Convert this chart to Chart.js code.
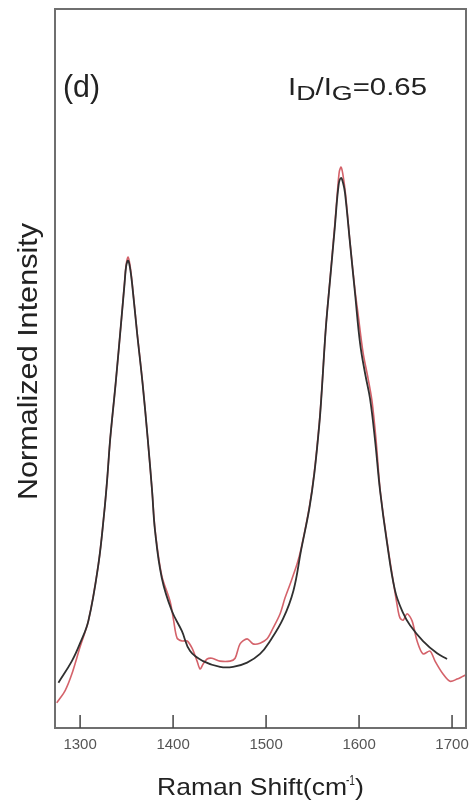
<!DOCTYPE html>
<html>
<head>
<meta charset="utf-8">
<script src="https://cdn.jsdelivr.net/npm/chart.js@4.4.1/dist/chart.umd.min.js"></script>
<style>
    html, body { margin: 0; padding: 0; background: #fff; }
    #wrap { width: 474px; height: 807px; position: relative; }
</style>
</head>
<body>
<div id="wrap"><canvas id="raman-chart"></canvas></div>
<script>
const shiftTicks = [1300, 1400, 1500, 1600, 1700];

// Lorentzian fit (black)
const fitShift = [
    1276.7, 1291.1, 1300.0, 1308.9, 1319.7, 1325.8, 1329.0, 1332.5, 1338.2, 1344.6,
    1347.8, 1349.5, 1351.6, 1353.8, 1355.9, 1361.3, 1367.2, 1372.6, 1377.4, 1380.6,
    1387.8, 1398.6, 1409.4, 1418.3, 1432.3, 1450.5, 1464.5, 1479.6, 1493.5, 1504.3,
    1518.3, 1529.4, 1537.6, 1546.6, 1551.9, 1557.3, 1559.9, 1564.3, 1569.1, 1573.9,
    1578.0, 1580.6, 1582.8, 1584.9, 1590.3, 1595.7, 1601.1, 1606.5, 1611.8, 1617.2,
    1622.6, 1629.8, 1638.7, 1647.3, 1654.8, 1668.8, 1683.9, 1694.6
];
const fitIntensity = [
    6.3, 9.3, 11.8, 14.9, 22.8, 29.8, 34.4, 40.4, 47.9, 57.1,
    61.8, 64.2, 65.0, 63.9, 61.8, 54.9, 47.9, 40.4, 33.0, 27.4,
    20.9, 16.3, 13.5, 10.7, 9.3, 8.5, 8.5, 9.1, 10.3, 12.1,
    15.2, 19.1, 24.7, 30.6, 35.4, 42.3, 46.9, 55.7, 62.7, 69.6,
    75.5, 76.5, 75.8, 74.4, 67.4, 60.4, 53.5, 49.3, 45.8, 40.0,
    33.0, 26.0, 19.1, 16.0, 14.3, 12.1, 10.4, 9.6
];

// measured spectrum (red)
const rawShift = [
    1274.9, 1283.9, 1291.1, 1300.0, 1308.9, 1319.7, 1325.8, 1329.0, 1332.5, 1338.2,
    1344.6, 1347.8, 1349.7, 1351.6, 1353.6, 1355.9, 1361.3, 1367.2, 1372.6, 1377.4,
    1380.6, 1387.8, 1396.8, 1400.5, 1404.3, 1409.7, 1415.1, 1420.4, 1425.8, 1429.0,
    1432.3, 1436.6, 1441.9, 1450.5, 1461.3, 1466.7, 1472.0, 1479.6, 1486.0, 1493.5,
    1501.1, 1507.5, 1515.1, 1520.4, 1525.8, 1533.3, 1537.6, 1546.6, 1551.9, 1557.3,
    1559.9, 1564.3, 1569.1, 1573.9, 1577.0, 1578.8, 1580.6, 1582.6, 1585.5, 1590.3,
    1595.7, 1598.9, 1604.3, 1609.7, 1614.0, 1618.3, 1622.6, 1629.8, 1636.6, 1642.0,
    1644.1, 1647.5, 1651.6, 1657.0, 1662.4, 1668.8, 1676.3, 1681.7, 1690.3, 1697.8,
    1705.4, 1711.8, 1715.0
];
const rawIntensity = [
    3.5, 5.2, 7.5, 11.3, 14.9, 22.8, 29.8, 34.4, 40.4, 47.9,
    57.1, 62.0, 64.6, 65.5, 64.4, 62.0, 55.0, 48.0, 40.4, 33.0,
    27.6, 21.2, 17.6, 15.0, 12.5, 12.1, 12.1, 11.1, 9.3, 8.2,
    8.9, 9.6, 9.7, 9.3, 9.3, 9.7, 11.7, 12.4, 11.7, 11.8,
    12.4, 13.9, 15.9, 18.1, 20.0, 22.8, 24.9, 30.8, 35.6, 42.5,
    47.0, 55.8, 62.9, 70.0, 75.0, 77.4, 78.0, 77.0, 74.2, 67.5,
    60.8, 57.6, 52.2, 48.6, 45.4, 40.0, 33.2, 26.2, 20.5, 16.3,
    15.3, 15.0, 15.9, 14.9, 12.1, 10.3, 10.7, 9.3, 7.5, 6.5,
    6.8, 7.2, 7.4
];

const ratioValue = "0.65";

const toPoints = (xs, ys) => xs.map((x, i) => ({ x: x, y: ys[i] }));

const FONT = '"Liberation Sans", Arial, sans-serif';

// draws text squeezed/stretched to a given width
const fitText = (ctx, text, x, y, width) => {
    const w = ctx.measureText(text).width;
    ctx.save();
    ctx.translate(x, y);
    ctx.scale(width / w, 1);
    ctx.fillText(text, 0, 0);
    ctx.restore();
};

const framePlugin = {
    id: "frame",
    afterDraw(chart) {
        const ctx = chart.ctx;
        const ca = chart.chartArea;
        const xScale = chart.scales.x;

        ctx.save();
        // box
        ctx.strokeStyle = "#6f6f6f";
        ctx.lineWidth = 2;
        ctx.strokeRect(ca.left, ca.top, ca.right - ca.left, ca.bottom - ca.top);

        // inward ticks + labels
        ctx.strokeStyle = "#444";
        ctx.lineWidth = 1.5;
        ctx.fillStyle = "#555";
        ctx.font = "15px " + FONT;
        ctx.textAlign = "center";
        ctx.textBaseline = "alphabetic";
        shiftTicks.forEach((v) => {
            const px = xScale.getPixelForValue(v);
            ctx.beginPath();
            ctx.moveTo(px, ca.bottom);
            ctx.lineTo(px, ca.bottom - 13);
            ctx.stroke();
            ctx.fillText(String(v), px, 749);
        });

        ctx.textAlign = "left";
        ctx.fillStyle = "#222";

        // x axis title
        ctx.font = "24px " + FONT;
        fitText(ctx, "Raman Shift(cm", 157, 795, 190);
        ctx.font = "14px " + FONT;
        fitText(ctx, "-1", 346, 785, 9);
        ctx.font = "24px " + FONT;
        fitText(ctx, ")", 355, 795, 9);

        // y axis title
        ctx.save();
        ctx.translate(37, 500);
        ctx.rotate(-Math.PI / 2);
        ctx.font = "28px " + FONT;
        fitText(ctx, "Normalized Intensity", 0, 0, 277);
        ctx.restore();

        // panel letter
        ctx.font = "31px " + FONT;
        fitText(ctx, "(d)", 63, 97, 37);

        // I_D/I_G label
        const pieces = [
            ["I", 23, 0], ["D", 21, 5], ["/", 23, 0], ["I", 23, 0],
            ["G", 21, 5], ["=" + ratioValue, 23, 0]
        ];
        let total = 0;
        pieces.forEach((p) => {
            ctx.font = p[1] + "px " + FONT;
            total += ctx.measureText(p[0]).width;
        });
        const sx = 139 / total;
        let cx = 288;
        pieces.forEach((p) => {
            ctx.font = p[1] + "px " + FONT;
            const w = ctx.measureText(p[0]).width * sx;
            fitText(ctx, p[0], cx, 95 + p[2], w);
            cx += w;
        });
        ctx.restore();
    },
};

const initChart = () => {
    const ctx = document.querySelector("#raman-chart");

    return new Chart(ctx, {
        type: "line",
        data: {
            datasets: [
                {
                    label: "fit",
                    data: toPoints(fitShift, fitIntensity),
                    borderColor: "#303030",
                    borderWidth: 1.8,
                    pointRadius: 0,
                    tension: 0.4,
                    order: 0,
                },
                {
                    label: "raw",
                    data: toPoints(rawShift, rawIntensity),
                    borderColor: "rgba(205, 70, 80, 0.85)",
                    borderWidth: 1.6,
                    pointRadius: 0,
                    tension: 0.3,
                    order: 1,
                },
            ],
        },
        options: {
            responsive: true,
            maintainAspectRatio: false,
            animation: false,
            layout: {
                padding: { left: 55, right: 8, top: 9, bottom: 79 },
            },
            scales: {
                x: {
                    type: "linear",
                    min: 1273,
                    max: 1715,
                    display: false,
                },
                y: {
                    min: 0,
                    max: 100,
                    display: false,
                },
            },
            plugins: {
                legend: { display: false },
                tooltip: { enabled: false },
            },
        },
        plugins: [framePlugin],
    });
};

initChart();
</script>
</body>
</html>
